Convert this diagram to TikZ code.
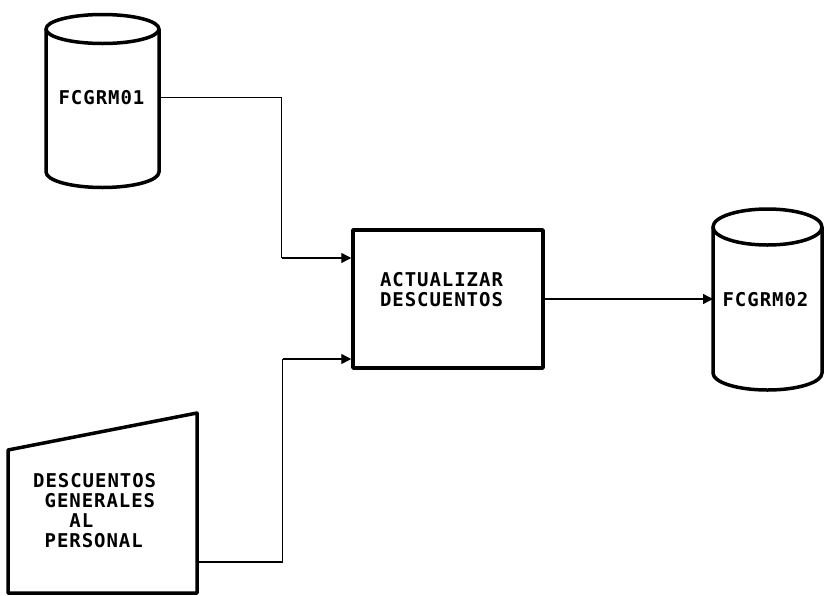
\documentclass[tikz,border=0pt]{standalone}
\usepackage{fontspec}
\newfontfamily\pix[LetterSpace=5]{DejaVu Sans Mono}
\usetikzlibrary{arrows.meta}
\tikzset{
  shapeline/.style={line width=3.5pt, line join=round},
  conn/.style={line width=1.4pt},
  arr/.style={conn, -{Triangle[length=10pt,width=10pt]}},
  txt/.style={font=\pix\bfseries\fontsize{19}{20}\selectfont, inner sep=0pt, align=left},
  ghost/.style={inner sep=0pt, outer sep=0pt, draw=none}
}
\begin{document}
\begin{tikzpicture}[x=1pt,y=-1pt]
\useasboundingbox[fill=white] (0,0) rectangle (826,595);

% Cylinder FCGRM01
\node[ghost, minimum width=113pt, minimum height=143pt] (c1) at (102.5,100.5) {};
\node[txt] (c1t) at (101.5,98) {FCGRM01};
\draw[shapeline] (c1.north) ellipse [x radius=56.5pt, y radius=14.5pt];
\draw[shapeline] (c1.north west) -- (c1.south west)
  arc[start angle=180, end angle=360, x radius=56.5pt, y radius=15.5pt]
  -- (c1.north east);

% Cylinder FCGRM02
\node[ghost, minimum width=109pt, minimum height=146pt] (c2) at (767.5,300) {};
\node[txt] (c2t) at (765.5,300) {FCGRM02};
\draw[shapeline] (c2.north) ellipse [x radius=54.5pt, y radius=18pt];
\draw[shapeline] (c2.north west) -- (c2.south west)
  arc[start angle=180, end angle=360, x radius=54.5pt, y radius=17pt]
  -- (c2.north east);

% Process box
\node[shapeline, draw, minimum width=190pt, minimum height=138pt] (box) at (448,299) {};
\node[txt] (boxt) at (441.5,290) {ACTUALIZAR\\DESCUENTOS};

% Manual input trapezoid
\node[ghost, minimum width=189pt, minimum height=180pt] (dg) at (102.5,503) {};
\draw[shapeline] (dg.south west) -- (dg.south east) -- (dg.north east)
  -- (8,450) -- cycle;
\node[txt, anchor=north west] (dgt) at (33,473.5)
  {DESCUENTOS\\\phantom{G}GENERALES\\\phantom{GEN}AL\\\phantom{P}PERSONAL};

% Connectors
\coordinate (j1) at (281.5,258);
\coordinate (j2) at (282.5,359);
\coordinate (d2) at (282.5,562);
\draw[conn] ([yshift=3pt]c1.east) -| (j1);
\draw[arr] (j1) -- (j1 -| box.west);
\draw[conn] (d2 -| dg.east) -- (d2) -- (j2);
\draw[arr] (j2) -- (j2 -| box.west);
\draw[arr] (box.east) -- (box.east -| c2.west);
\end{tikzpicture}
\end{document}
